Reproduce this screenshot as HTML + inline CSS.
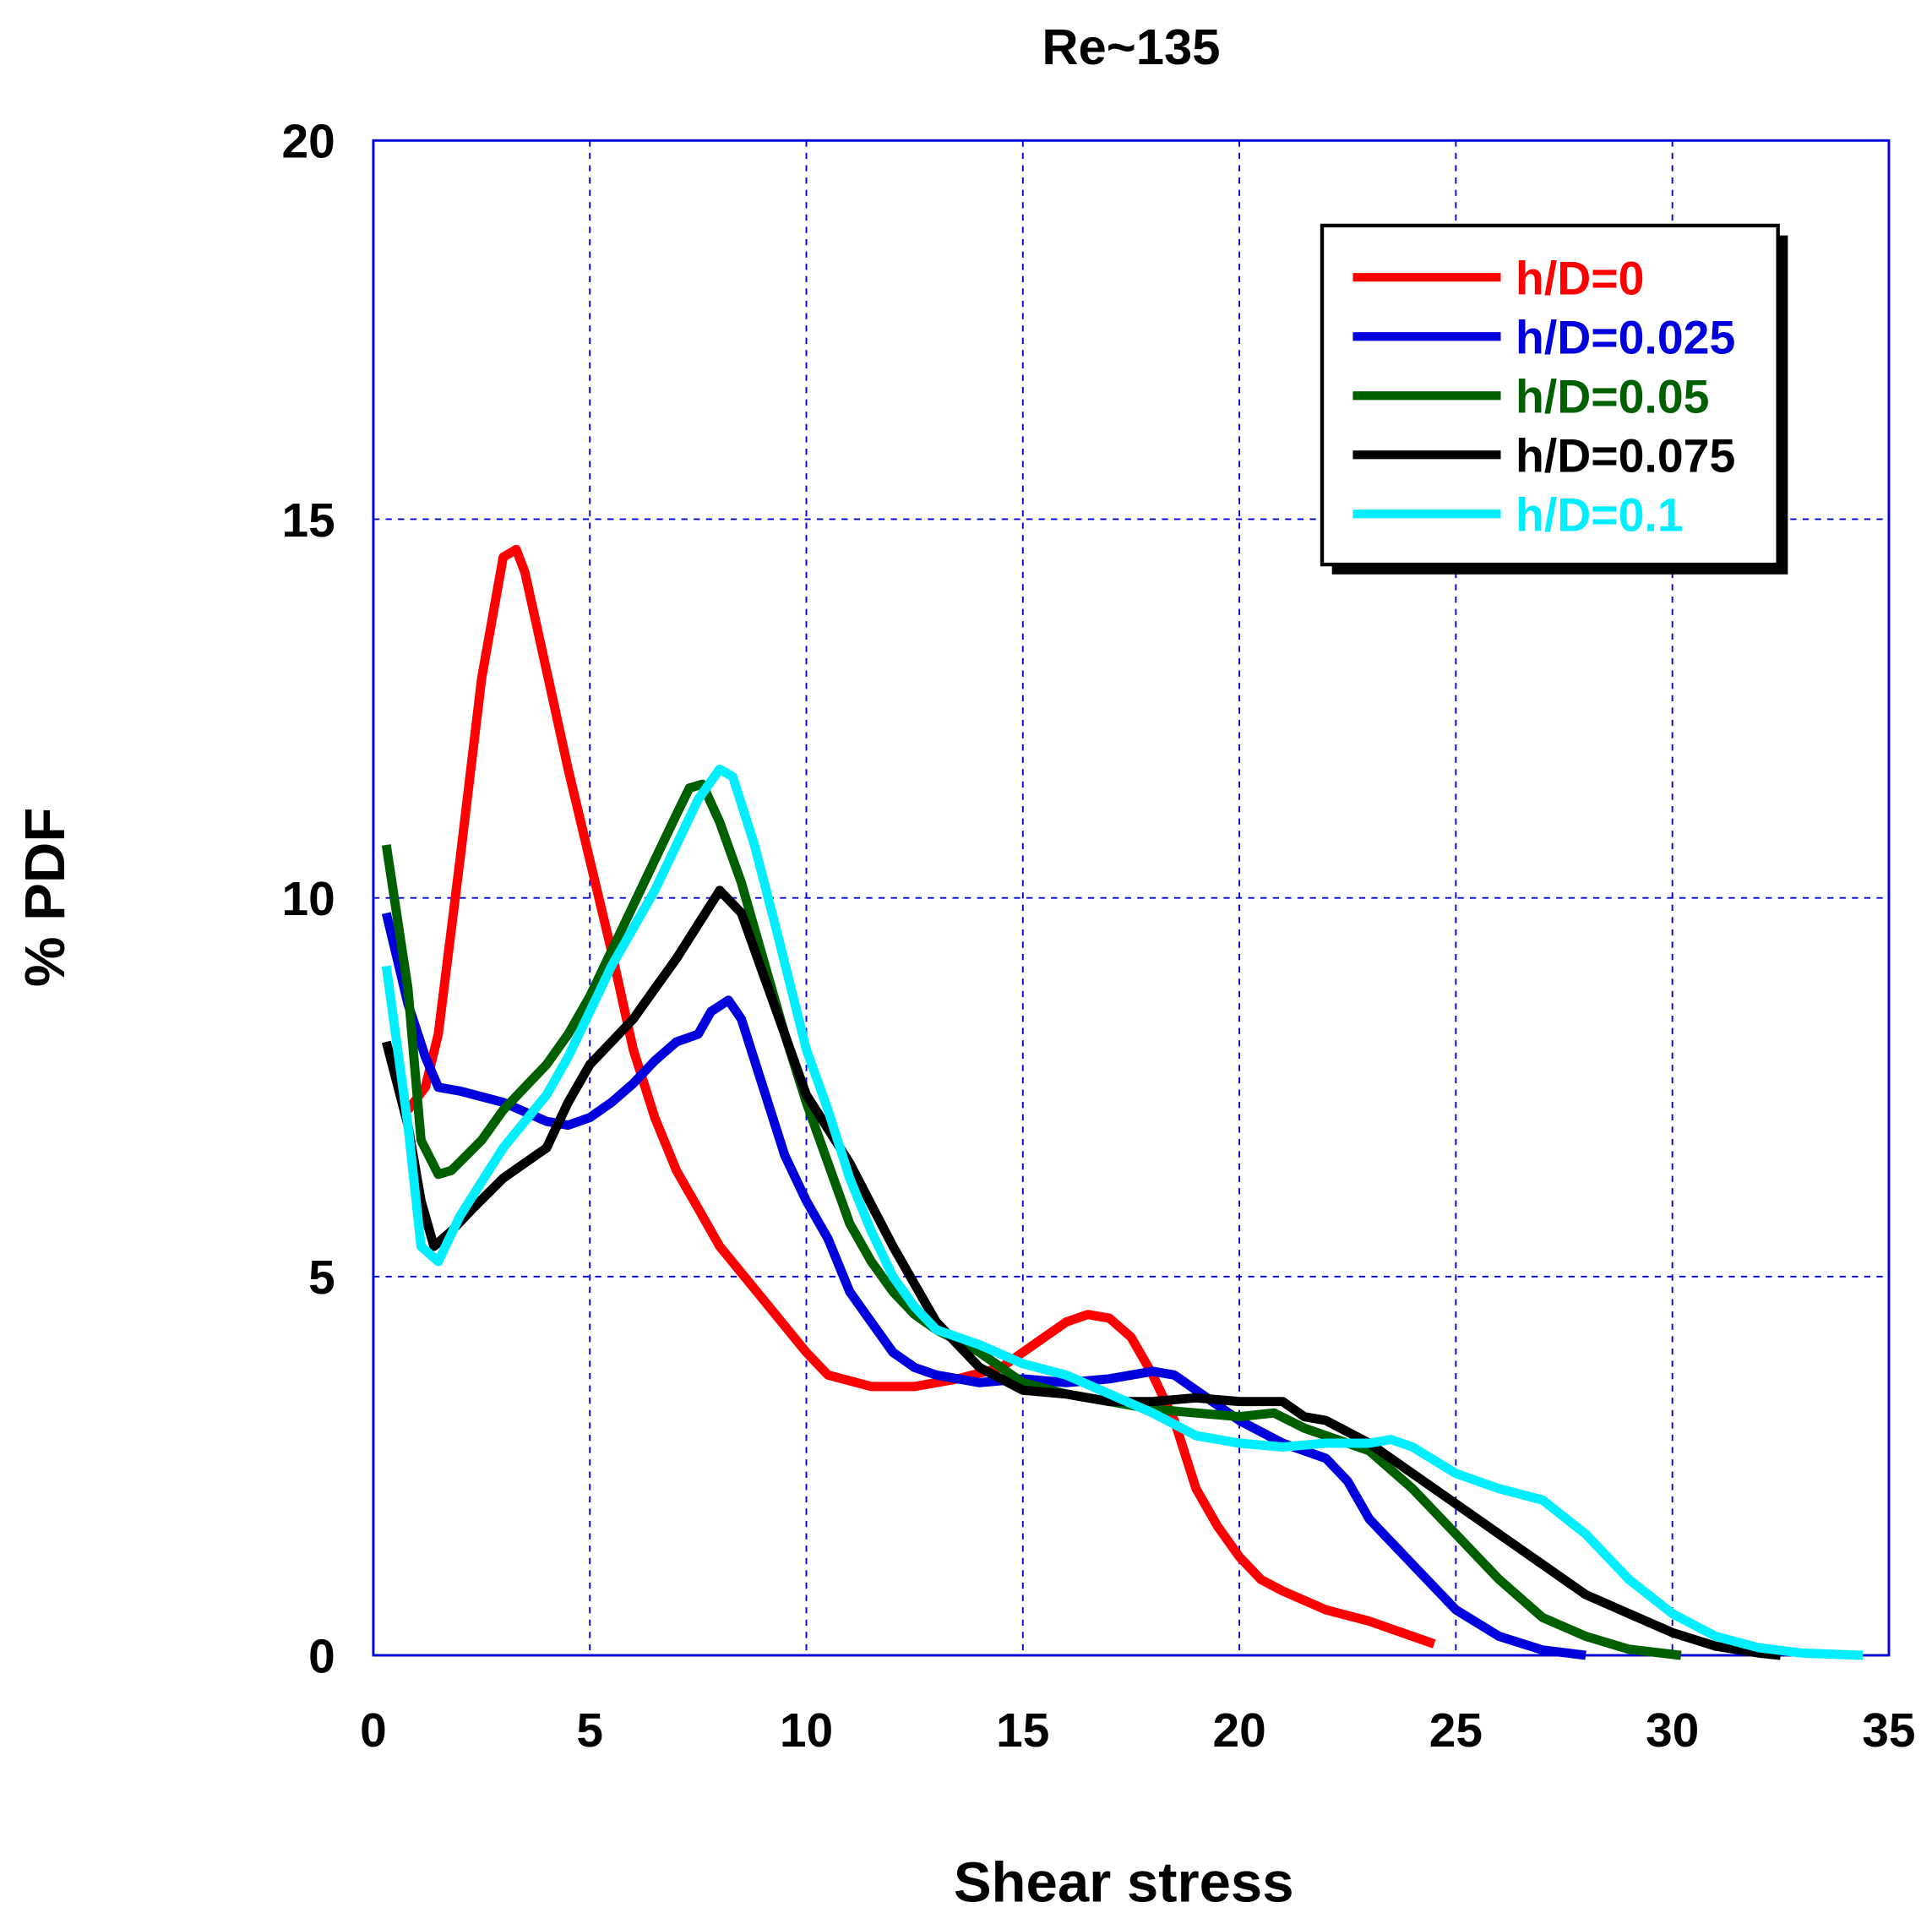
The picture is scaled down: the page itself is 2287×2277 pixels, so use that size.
<!DOCTYPE html>
<html><head><meta charset="utf-8"><style>
html,body{margin:0;padding:0;background:#fff}
svg{display:block}
text{font-family:"Liberation Sans",Arial,sans-serif;font-weight:bold}
</style></head><body>
<svg id="s" width="2287" height="2277" viewBox="0 0 1568 1561" preserveAspectRatio="none" xmlns="http://www.w3.org/2000/svg">
<rect width="1568" height="1561" fill="#fff"/>
<g id="grid" stroke="#0000dd" stroke-width="1.3" stroke-dasharray="5,5"></g>
<rect x="303" y="114" width="1230" height="1229" fill="none" stroke="#0000dd" stroke-width="2"/>
<g id="lines" fill="none" stroke-width="7.5" stroke-linejoin="round" stroke-linecap="butt"></g>
<g id="ticks" font-size="39" fill="#000"></g>
<text x="918" y="52" font-size="41" text-anchor="middle">Re~135</text>
<text x="912" y="1543" font-size="46" text-anchor="middle">Shear stress</text>
<text transform="translate(52,728) rotate(-90)" font-size="46" text-anchor="middle">% PDF</text>
<rect x="1081" y="191" width="370" height="275" fill="#000"/>
<rect x="1073" y="183" width="370" height="275" fill="#fff" stroke="#000" stroke-width="3"/>
<g id="leg" font-size="38"></g>
</svg>
<script>
const X=v=>303+v*1230/35, Y=v=>1343-v*1229/20;
const ns="http://www.w3.org/2000/svg";
function el(p,t,a,txt){const e=document.createElementNS(ns,t);for(const k in a)e.setAttribute(k,a[k]);if(txt)e.textContent=txt;document.getElementById(p).appendChild(e);}
for(let i=5;i<35;i+=5)el("grid","line",{x1:X(i),x2:X(i),y1:114,y2:1343});
for(let i=5;i<20;i+=5)el("grid","line",{x1:303,x2:1533,y1:Y(i),y2:Y(i)});
for(let i=0;i<=35;i+=5)el("ticks","text",{x:X(i),y:1417,"text-anchor":"middle"},String(i));
for(let i=0;i<=20;i+=5)el("ticks","text",{x:272,y:Y(i)+14,"text-anchor":"end"},String(i));
const D={
"#ff0000":[[0.8,7.2],[1.2,7.5],[1.5,8.2],[2,10.5],[2.5,12.9],[3,14.5],[3.3,14.6],[3.5,14.3],[4,13],[4.5,11.7],[5,10.5],[5.5,9.3],[6,8],[6.5,7.1],[7,6.4],[7.5,5.9],[8,5.4],[9,4.7],[10,4.0],[10.5,3.7],[11.5,3.55],[12.5,3.55],[13.5,3.65],[14.5,3.8],[15,4.0],[15.5,4.2],[16,4.4],[16.5,4.5],[17,4.45],[17.5,4.2],[18,3.7],[18.5,3.1],[19,2.2],[19.5,1.7],[20,1.3],[20.5,1.0],[21,0.85],[22,0.6],[23,0.45],[24.5,0.15]],
"#0000dd":[[0.3,9.8],[0.8,8.6],[1.2,7.9],[1.5,7.5],[2,7.45],[3,7.3],[4,7.05],[4.5,7.0],[5,7.1],[5.5,7.3],[6,7.55],[6.5,7.85],[7,8.1],[7.5,8.2],[7.8,8.5],[8.2,8.65],[8.5,8.4],[9,7.5],[9.5,6.6],[10,6.0],[10.5,5.5],[11,4.8],[11.5,4.4],[12,4.0],[12.5,3.8],[13,3.7],[14,3.6],[15,3.65],[16,3.6],[17,3.65],[18,3.75],[18.5,3.7],[19,3.5],[20,3.1],[21,2.8],[22,2.6],[22.5,2.3],[23,1.8],[24,1.2],[25,0.6],[26,0.25],[27,0.07],[28,0.0]],
"#006000":[[0.3,10.7],[0.8,8.8],[1.1,6.8],[1.5,6.35],[1.8,6.4],[2.5,6.8],[3,7.2],[3.5,7.5],[4,7.8],[4.5,8.2],[5,8.7],[5.5,9.3],[6,9.9],[6.5,10.5],[7,11.1],[7.3,11.45],[7.6,11.5],[8,11.0],[8.5,10.2],[9,9.2],[9.5,8.2],[10,7.3],[10.5,6.5],[11,5.7],[11.5,5.2],[12,4.8],[12.5,4.5],[13,4.3],[14,4.0],[15,3.6],[16,3.45],[17,3.35],[18,3.25],[19,3.2],[20,3.15],[20.8,3.2],[21.5,3.0],[22,2.9],[23,2.7],[24,2.2],[25,1.6],[26,1.0],[27,0.5],[28,0.25],[29,0.08],[30.2,0.0]],
"#000000":[[0.3,8.1],[0.8,7.0],[1.1,6.0],[1.4,5.4],[1.8,5.6],[2.3,5.9],[3,6.3],[3.5,6.5],[4,6.7],[4.5,7.3],[5,7.8],[5.5,8.1],[6,8.4],[6.5,8.8],[7,9.2],[7.5,9.65],[8,10.1],[8.5,9.8],[9,9.0],[9.5,8.2],[10,7.4],[11,6.5],[12,5.4],[12.5,4.9],[13,4.4],[14,3.8],[15,3.5],[16,3.45],[17,3.35],[18,3.35],[19,3.4],[20,3.35],[21,3.35],[21.5,3.15],[22,3.1],[23,2.8],[24,2.4],[25,2.0],[26,1.6],[27,1.2],[28,0.8],[29,0.55],[30,0.3],[31,0.12],[32,0.03],[32.5,0.0]],
"#00eeff":[[0.3,9.1],[0.8,7.0],[1.1,5.4],[1.5,5.2],[2,5.8],[3,6.7],[4,7.4],[4.5,7.9],[5,8.5],[5.5,9.1],[6,9.6],[6.5,10.1],[7,10.7],[7.5,11.3],[8,11.7],[8.3,11.6],[8.8,10.7],[9.3,9.6],[10,8.0],[10.5,7.2],[11,6.3],[11.5,5.6],[12,5.0],[12.5,4.6],[13,4.3],[14,4.1],[15,3.85],[16,3.7],[17,3.45],[18,3.2],[19,2.9],[20,2.8],[21,2.75],[22,2.8],[23,2.8],[23.5,2.85],[24,2.75],[25,2.4],[26,2.2],[27,2.05],[28,1.6],[29,1.0],[30,0.55],[31,0.25],[32,0.1],[33,0.03],[34.4,0.0]]};
const names=["h/D=0","h/D=0.025","h/D=0.05","h/D=0.075","h/D=0.1"];
Object.keys(D).forEach((c,i)=>{
 el("lines","path",{d:"M"+D[c].map(p=>X(p[0]).toFixed(1)+","+Y(p[1]).toFixed(1)).join("L"),stroke:c});
 const y=225+i*48;
 el("leg","line",{x1:1098,x2:1218,y1:y,y2:y,stroke:c,"stroke-width":7});
 el("leg","text",{x:1230,y:y+14,fill:c},names[i]);
});
</script>
</body></html>
